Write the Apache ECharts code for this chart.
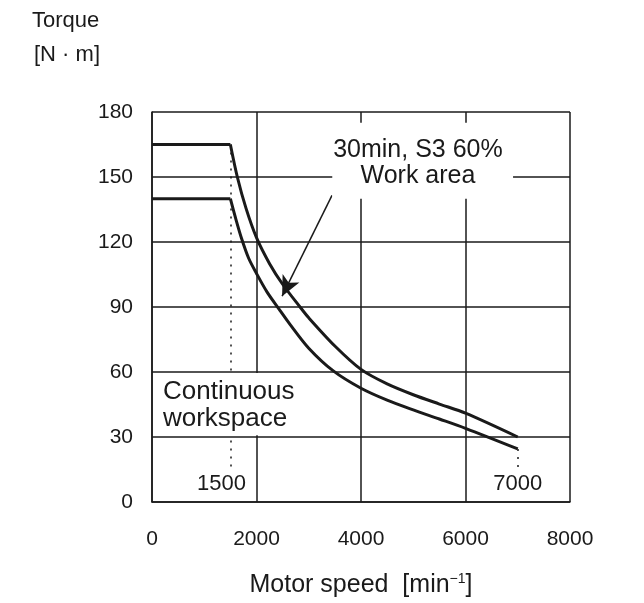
<!DOCTYPE html>
<html><head><meta charset="utf-8">
<script src="https://cdn.jsdelivr.net/npm/echarts@6/dist/echarts.min.js"></script>
<style>html,body{margin:0;padding:0;background:#fff;}#c{width:644px;height:603px;}</style>
</head><body><div id="c"></div>
<script>
const xTicks = [0, 2000, 4000, 6000, 8000];
const yTicks = [0, 30, 60, 90, 120, 150, 180];
const s3Speed  = [0, 1500, 1633, 1800, 2000, 2250, 2500, 2833, 3000, 3500, 4000, 4500, 5000, 5500, 6000, 7000];
const s3Torque = [165, 165, 150, 135.5, 122, 110, 100.5, 90, 85, 72, 61.2, 54.5, 49.5, 45.2, 41, 30];
const contSpeed  = [0, 1500, 1600, 1716, 1850, 2000, 2200, 2418, 2641, 3000, 3470, 4000, 4500, 5000, 5500, 6000, 7000];
const contTorque = [140, 140, 131, 121.5, 112.5, 105.5, 97, 89.5, 82, 71, 60.5, 52.5, 47, 42.5, 38.3, 34, 24.5];
const markSpeeds = [1500, 7000];
const annoS3 = ['30min, S3 60%', 'Work area'];
const annoCont = ['Continuous', 'workspace'];

const FONT = 'Liberation Sans, Arial, sans-serif';
const INK = '#1a1a1a';
const zip = (a, b) => a.map((v, i) => [v, b[i]]);
const flatPart = (sp, tq) => zip(sp, tq).filter(p => p[0] <= markSpeeds[0]);
const curvePart = (sp, tq) => zip(sp, tq).filter(p => p[0] >= markSpeeds[0]);
const lineS = (data, smooth) => ({type: 'line', data, symbol: 'none', smooth, z: 5, lineStyle: {color: INK, width: 3, join: 'round', cap: 'butt'}});

const chart = echarts.init(document.getElementById('c'), null, {renderer: 'canvas'});
chart.setOption({
  animation: false,
  backgroundColor: '#fff',
  grid: {left: 152, top: 112, width: 418, height: 390, outerBoundsMode: 'none', containLabel: false},
  xAxis: {
    type: 'value', min: 0, max: 8000, interval: 2000,
    axisLine: {show: true, lineStyle: {color: INK, width: 1.5}},
    axisTick: {show: false},
    splitLine: {show: true, lineStyle: {color: INK, width: 1.5}},
    axisLabel: {color: INK, fontSize: 21, fontFamily: FONT, margin: 27, formatter: v => String(v)},
    name: 'Motor speed  [min{sup|−1}]',
    nameLocation: 'middle', nameGap: 70,
    nameTextStyle: {color: INK, fontSize: 25, fontFamily: FONT,
      rich: {sup: {fontSize: 14, fontFamily: FONT, color: INK, verticalAlign: 'top', padding: [0, 0, 12, 0]}}}
  },
  yAxis: {
    type: 'value', min: 0, max: 180, interval: 30,
    axisLine: {show: true, lineStyle: {color: INK, width: 1.5}},
    axisTick: {show: false},
    splitLine: {show: true, lineStyle: {color: INK, width: 1.5}},
    axisLabel: {color: INK, fontSize: 21, fontFamily: FONT, margin: 19, formatter: v => String(v)}
  },
  series: [
    lineS(flatPart(s3Speed, s3Torque), false),
    lineS(curvePart(s3Speed, s3Torque), 0.3),
    lineS(flatPart(contSpeed, contTorque), false),
    Object.assign(lineS(curvePart(contSpeed, contTorque), 0.3), {
     markLine: {silent: true, symbol: 'none', label: {show: false},
       lineStyle: {color: INK, width: 1.5, type: [2, 6]},
       data: [
         [{coord: [markSpeeds[0], s3Torque[1]]}, {coord: [markSpeeds[0], 15]}],
         [{coord: [markSpeeds[1], contTorque[contTorque.length - 1]]}, {coord: [markSpeeds[1], 15]}]
       ]}}),
    {type: 'line', data: [], symbol: 'none', z: 6,
     markLine: {silent: true, symbol: ['none', 'arrow'], symbolSize: [14, 20], label: {show: false},
       lineStyle: {color: INK, width: 1.5, type: 'solid'},
       data: [[{coord: [3445, 141.5]}, {coord: [2490, 95]}]]}}
  ]
});

const P = (x, y) => chart.convertToPixel({gridIndex: 0}, [x, y]);
const g = [];
const a1 = P(3450, 175), a2 = P(6910, 140);
g.push({type: 'rect', shape: {x: a1[0], y: a1[1], width: a2[0] - a1[0], height: a2[1] - a1[1]}, style: {fill: '#fff'}, z: 10});
const ac = P(5090, 156.5);
g.push({type: 'text', x: ac[0], y: ac[1], z: 11, style: {text: annoS3.join('\n'), fill: INK, font: '25px ' + FONT, align: 'center', verticalAlign: 'middle', lineHeight: 26}});
const b1 = P(20, 60), b2 = P(2850, 30.3);
g.push({type: 'rect', shape: {x: b1[0], y: b1[1] + 1, width: b2[0] - b1[0], height: b2[1] - b1[1] - 2}, style: {fill: '#fff'}, z: 10});
const bc = P(210, 44.5);
g.push({type: 'text', x: bc[0], y: bc[1], z: 11, style: {text: annoCont.join('\n'), fill: INK, font: '26px ' + FONT, align: 'left', verticalAlign: 'middle', lineHeight: 27}});
const l1 = P(1330, 8.5), l2 = P(7000, 8.5);
g.push({type: 'text', x: l1[0], y: l1[1], z: 11, style: {text: String(markSpeeds[0]), fill: INK, font: '22px ' + FONT, align: 'center', verticalAlign: 'middle'}});
g.push({type: 'text', x: l2[0], y: l2[1], z: 11, style: {text: String(markSpeeds[1]), fill: INK, font: '22px ' + FONT, align: 'center', verticalAlign: 'middle'}});
g.push({type: 'text', left: 32, top: 10, z: 11, style: {text: 'Torque', fill: INK, font: '22px ' + FONT}});
g.push({type: 'text', left: 34, top: 44, z: 11, style: {text: '[N · m]', fill: INK, font: '22px ' + FONT}});
chart.setOption({graphic: g});
</script></body></html>
